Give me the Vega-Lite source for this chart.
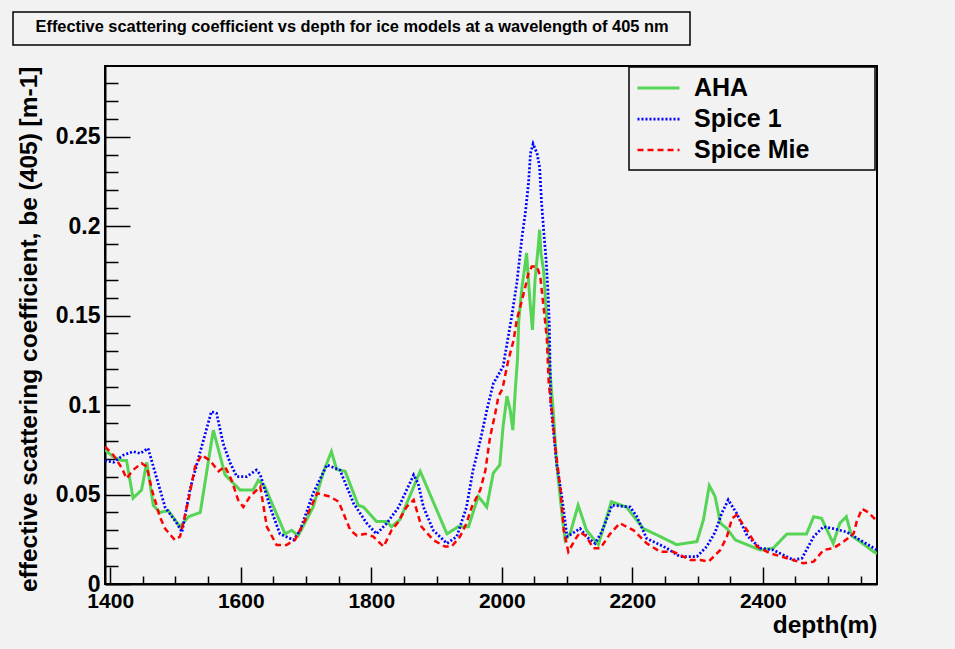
{
  "$schema": "https://vega.github.io/schema/vega-lite/v6.json",
  "autosize": {"type": "none"},
  "padding": {"left": 105, "top": 66, "right": 78, "bottom": 65},
  "width": 772,
  "height": 518,
  "background": "#f2f2f2",
  "data": {"values": [
    {"d":1392,"v":0.075,"m":"AHA"},{"d":1405,"v":0.071,"m":"AHA"},{"d":1418,"v":0.069,"m":"AHA"},{"d":1425,"v":0.069,"m":"AHA"},{"d":1435,"v":0.048,"m":"AHA"},{"d":1448,"v":0.0525,"m":"AHA"},{"d":1456,"v":0.068,"m":"AHA"},{"d":1466,"v":0.044,"m":"AHA"},{"d":1476,"v":0.040,"m":"AHA"},{"d":1489,"v":0.041,"m":"AHA"},{"d":1507,"v":0.032,"m":"AHA"},{"d":1520,"v":0.0376,"m":"AHA"},{"d":1538,"v":0.040,"m":"AHA"},{"d":1558,"v":0.086,"m":"AHA"},{"d":1576,"v":0.061,"m":"AHA"},{"d":1599,"v":0.0525,"m":"AHA"},{"d":1619,"v":0.0525,"m":"AHA"},{"d":1627,"v":0.058,"m":"AHA"},{"d":1637,"v":0.0544,"m":"AHA"},{"d":1668,"v":0.028,"m":"AHA"},{"d":1678,"v":0.030,"m":"AHA"},{"d":1688,"v":0.027,"m":"AHA"},{"d":1711,"v":0.043,"m":"AHA"},{"d":1727,"v":0.063,"m":"AHA"},{"d":1739,"v":0.074,"m":"AHA"},{"d":1747,"v":0.064,"m":"AHA"},{"d":1760,"v":0.063,"m":"AHA"},{"d":1780,"v":0.044,"m":"AHA"},{"d":1788,"v":0.043,"m":"AHA"},{"d":1808,"v":0.035,"m":"AHA"},{"d":1824,"v":0.035,"m":"AHA"},{"d":1831,"v":0.032,"m":"AHA"},{"d":1844,"v":0.036,"m":"AHA"},{"d":1875,"v":0.063,"m":"AHA"},{"d":1916,"v":0.028,"m":"AHA"},{"d":1933,"v":0.032,"m":"AHA"},{"d":1949,"v":0.032,"m":"AHA"},{"d":1964,"v":0.049,"m":"AHA"},{"d":1977,"v":0.043,"m":"AHA"},{"d":1987,"v":0.062,"m":"AHA"},{"d":1997,"v":0.0665,"m":"AHA"},{"d":2002,"v":0.088,"m":"AHA"},{"d":2008,"v":0.105,"m":"AHA"},{"d":2013,"v":0.097,"m":"AHA"},{"d":2017,"v":0.086,"m":"AHA"},{"d":2021,"v":0.110,"m":"AHA"},{"d":2024,"v":0.125,"m":"AHA"},{"d":2026,"v":0.147,"m":"AHA"},{"d":2031,"v":0.166,"m":"AHA"},{"d":2036,"v":0.179,"m":"AHA"},{"d":2038,"v":0.185,"m":"AHA"},{"d":2043,"v":0.159,"m":"AHA"},{"d":2047,"v":0.142,"m":"AHA"},{"d":2051,"v":0.170,"m":"AHA"},{"d":2056,"v":0.189,"m":"AHA"},{"d":2058,"v":0.198,"m":"AHA"},{"d":2060,"v":0.185,"m":"AHA"},{"d":2064,"v":0.1755,"m":"AHA"},{"d":2069,"v":0.148,"m":"AHA"},{"d":2074,"v":0.118,"m":"AHA"},{"d":2079,"v":0.096,"m":"AHA"},{"d":2084,"v":0.0675,"m":"AHA"},{"d":2092,"v":0.040,"m":"AHA"},{"d":2097,"v":0.0246,"m":"AHA"},{"d":2105,"v":0.0285,"m":"AHA"},{"d":2117,"v":0.044,"m":"AHA"},{"d":2130,"v":0.030,"m":"AHA"},{"d":2148,"v":0.022,"m":"AHA"},{"d":2168,"v":0.046,"m":"AHA"},{"d":2191,"v":0.043,"m":"AHA"},{"d":2217,"v":0.031,"m":"AHA"},{"d":2243,"v":0.0265,"m":"AHA"},{"d":2268,"v":0.022,"m":"AHA"},{"d":2299,"v":0.0237,"m":"AHA"},{"d":2309,"v":0.0358,"m":"AHA"},{"d":2318,"v":0.055,"m":"AHA"},{"d":2327,"v":0.0488,"m":"AHA"},{"d":2335,"v":0.034,"m":"AHA"},{"d":2345,"v":0.031,"m":"AHA"},{"d":2358,"v":0.0246,"m":"AHA"},{"d":2396,"v":0.019,"m":"AHA"},{"d":2416,"v":0.020,"m":"AHA"},{"d":2437,"v":0.028,"m":"AHA"},{"d":2467,"v":0.028,"m":"AHA"},{"d":2478,"v":0.0376,"m":"AHA"},{"d":2490,"v":0.0367,"m":"AHA"},{"d":2508,"v":0.0227,"m":"AHA"},{"d":2518,"v":0.034,"m":"AHA"},{"d":2528,"v":0.0376,"m":"AHA"},{"d":2536,"v":0.027,"m":"AHA"},{"d":2549,"v":0.0237,"m":"AHA"},{"d":2570,"v":0.018,"m":"AHA"},{"d":2575,"v":0.017,"m":"AHA"},

    {"d":1392,"v":0.069,"m":"Spice 1"},{"d":1405,"v":0.068,"m":"Spice 1"},{"d":1420,"v":0.072,"m":"Spice 1"},{"d":1435,"v":0.074,"m":"Spice 1"},{"d":1446,"v":0.073,"m":"Spice 1"},{"d":1458,"v":0.0758,"m":"Spice 1"},{"d":1469,"v":0.062,"m":"Spice 1"},{"d":1484,"v":0.043,"m":"Spice 1"},{"d":1502,"v":0.034,"m":"Spice 1"},{"d":1510,"v":0.029,"m":"Spice 1"},{"d":1522,"v":0.0525,"m":"Spice 1"},{"d":1538,"v":0.074,"m":"Spice 1"},{"d":1555,"v":0.0963,"m":"Spice 1"},{"d":1563,"v":0.0954,"m":"Spice 1"},{"d":1573,"v":0.0786,"m":"Spice 1"},{"d":1584,"v":0.0675,"m":"Spice 1"},{"d":1594,"v":0.060,"m":"Spice 1"},{"d":1609,"v":0.060,"m":"Spice 1"},{"d":1624,"v":0.0637,"m":"Spice 1"},{"d":1630,"v":0.061,"m":"Spice 1"},{"d":1645,"v":0.043,"m":"Spice 1"},{"d":1660,"v":0.028,"m":"Spice 1"},{"d":1681,"v":0.0246,"m":"Spice 1"},{"d":1691,"v":0.030,"m":"Spice 1"},{"d":1711,"v":0.0507,"m":"Spice 1"},{"d":1732,"v":0.0665,"m":"Spice 1"},{"d":1752,"v":0.0637,"m":"Spice 1"},{"d":1773,"v":0.045,"m":"Spice 1"},{"d":1793,"v":0.034,"m":"Spice 1"},{"d":1808,"v":0.028,"m":"Spice 1"},{"d":1824,"v":0.034,"m":"Spice 1"},{"d":1842,"v":0.043,"m":"Spice 1"},{"d":1865,"v":0.061,"m":"Spice 1"},{"d":1872,"v":0.056,"m":"Spice 1"},{"d":1880,"v":0.043,"m":"Spice 1"},{"d":1895,"v":0.030,"m":"Spice 1"},{"d":1916,"v":0.0227,"m":"Spice 1"},{"d":1931,"v":0.0265,"m":"Spice 1"},{"d":1946,"v":0.043,"m":"Spice 1"},{"d":1956,"v":0.0637,"m":"Spice 1"},{"d":1967,"v":0.080,"m":"Spice 1"},{"d":1977,"v":0.097,"m":"Spice 1"},{"d":1987,"v":0.112,"m":"Spice 1"},{"d":2002,"v":0.1215,"m":"Spice 1"},{"d":2015,"v":0.149,"m":"Spice 1"},{"d":2023,"v":0.168,"m":"Spice 1"},{"d":2031,"v":0.194,"m":"Spice 1"},{"d":2036,"v":0.207,"m":"Spice 1"},{"d":2041,"v":0.224,"m":"Spice 1"},{"d":2044,"v":0.2407,"m":"Spice 1"},{"d":2048,"v":0.246,"m":"Spice 1"},{"d":2054,"v":0.2407,"m":"Spice 1"},{"d":2058,"v":0.233,"m":"Spice 1"},{"d":2061,"v":0.213,"m":"Spice 1"},{"d":2065,"v":0.194,"m":"Spice 1"},{"d":2068,"v":0.181,"m":"Spice 1"},{"d":2071,"v":0.1625,"m":"Spice 1"},{"d":2073,"v":0.144,"m":"Spice 1"},{"d":2075,"v":0.101,"m":"Spice 1"},{"d":2084,"v":0.0675,"m":"Spice 1"},{"d":2092,"v":0.0488,"m":"Spice 1"},{"d":2100,"v":0.0265,"m":"Spice 1"},{"d":2107,"v":0.028,"m":"Spice 1"},{"d":2120,"v":0.031,"m":"Spice 1"},{"d":2133,"v":0.0255,"m":"Spice 1"},{"d":2143,"v":0.0227,"m":"Spice 1"},{"d":2153,"v":0.029,"m":"Spice 1"},{"d":2169,"v":0.044,"m":"Spice 1"},{"d":2197,"v":0.043,"m":"Spice 1"},{"d":2207,"v":0.0376,"m":"Spice 1"},{"d":2222,"v":0.0255,"m":"Spice 1"},{"d":2243,"v":0.0218,"m":"Spice 1"},{"d":2253,"v":0.020,"m":"Spice 1"},{"d":2273,"v":0.0153,"m":"Spice 1"},{"d":2299,"v":0.0153,"m":"Spice 1"},{"d":2314,"v":0.0209,"m":"Spice 1"},{"d":2327,"v":0.029,"m":"Spice 1"},{"d":2337,"v":0.0395,"m":"Spice 1"},{"d":2347,"v":0.047,"m":"Spice 1"},{"d":2360,"v":0.0395,"m":"Spice 1"},{"d":2376,"v":0.027,"m":"Spice 1"},{"d":2396,"v":0.020,"m":"Spice 1"},{"d":2416,"v":0.019,"m":"Spice 1"},{"d":2447,"v":0.0134,"m":"Spice 1"},{"d":2460,"v":0.0144,"m":"Spice 1"},{"d":2478,"v":0.0265,"m":"Spice 1"},{"d":2493,"v":0.032,"m":"Spice 1"},{"d":2508,"v":0.031,"m":"Spice 1"},{"d":2529,"v":0.029,"m":"Spice 1"},{"d":2549,"v":0.0246,"m":"Spice 1"},{"d":2575,"v":0.019,"m":"Spice 1"},

    {"d":1392,"v":0.0767,"m":"Spice Mie"},{"d":1405,"v":0.072,"m":"Spice Mie"},{"d":1418,"v":0.0647,"m":"Spice Mie"},{"d":1425,"v":0.059,"m":"Spice Mie"},{"d":1435,"v":0.0637,"m":"Spice Mie"},{"d":1448,"v":0.0675,"m":"Spice Mie"},{"d":1456,"v":0.0656,"m":"Spice Mie"},{"d":1464,"v":0.0525,"m":"Spice Mie"},{"d":1476,"v":0.0376,"m":"Spice Mie"},{"d":1484,"v":0.031,"m":"Spice Mie"},{"d":1499,"v":0.0246,"m":"Spice Mie"},{"d":1507,"v":0.0265,"m":"Spice Mie"},{"d":1520,"v":0.047,"m":"Spice Mie"},{"d":1530,"v":0.0656,"m":"Spice Mie"},{"d":1540,"v":0.072,"m":"Spice Mie"},{"d":1553,"v":0.069,"m":"Spice Mie"},{"d":1566,"v":0.063,"m":"Spice Mie"},{"d":1576,"v":0.0656,"m":"Spice Mie"},{"d":1586,"v":0.058,"m":"Spice Mie"},{"d":1596,"v":0.047,"m":"Spice Mie"},{"d":1604,"v":0.043,"m":"Spice Mie"},{"d":1614,"v":0.0488,"m":"Spice Mie"},{"d":1630,"v":0.0544,"m":"Spice Mie"},{"d":1640,"v":0.032,"m":"Spice Mie"},{"d":1655,"v":0.0218,"m":"Spice Mie"},{"d":1670,"v":0.0218,"m":"Spice Mie"},{"d":1683,"v":0.0246,"m":"Spice Mie"},{"d":1699,"v":0.036,"m":"Spice Mie"},{"d":1717,"v":0.0507,"m":"Spice Mie"},{"d":1737,"v":0.0488,"m":"Spice Mie"},{"d":1750,"v":0.046,"m":"Spice Mie"},{"d":1768,"v":0.030,"m":"Spice Mie"},{"d":1778,"v":0.027,"m":"Spice Mie"},{"d":1791,"v":0.028,"m":"Spice Mie"},{"d":1803,"v":0.0265,"m":"Spice Mie"},{"d":1819,"v":0.0209,"m":"Spice Mie"},{"d":1831,"v":0.030,"m":"Spice Mie"},{"d":1841,"v":0.0345,"m":"Spice Mie"},{"d":1854,"v":0.043,"m":"Spice Mie"},{"d":1865,"v":0.047,"m":"Spice Mie"},{"d":1877,"v":0.032,"m":"Spice Mie"},{"d":1895,"v":0.0246,"m":"Spice Mie"},{"d":1913,"v":0.0209,"m":"Spice Mie"},{"d":1923,"v":0.0209,"m":"Spice Mie"},{"d":1936,"v":0.0265,"m":"Spice Mie"},{"d":1946,"v":0.034,"m":"Spice Mie"},{"d":1954,"v":0.043,"m":"Spice Mie"},{"d":1967,"v":0.0525,"m":"Spice Mie"},{"d":1975,"v":0.0637,"m":"Spice Mie"},{"d":1982,"v":0.082,"m":"Spice Mie"},{"d":1990,"v":0.0954,"m":"Spice Mie"},{"d":1995,"v":0.105,"m":"Spice Mie"},{"d":2001,"v":0.109,"m":"Spice Mie"},{"d":2010,"v":0.125,"m":"Spice Mie"},{"d":2018,"v":0.136,"m":"Spice Mie"},{"d":2023,"v":0.1476,"m":"Spice Mie"},{"d":2031,"v":0.1587,"m":"Spice Mie"},{"d":2036,"v":0.166,"m":"Spice Mie"},{"d":2041,"v":0.1737,"m":"Spice Mie"},{"d":2046,"v":0.1774,"m":"Spice Mie"},{"d":2054,"v":0.1774,"m":"Spice Mie"},{"d":2059,"v":0.1718,"m":"Spice Mie"},{"d":2064,"v":0.155,"m":"Spice Mie"},{"d":2069,"v":0.138,"m":"Spice Mie"},{"d":2072,"v":0.112,"m":"Spice Mie"},{"d":2077,"v":0.096,"m":"Spice Mie"},{"d":2082,"v":0.0767,"m":"Spice Mie"},{"d":2090,"v":0.0525,"m":"Spice Mie"},{"d":2095,"v":0.030,"m":"Spice Mie"},{"d":2102,"v":0.018,"m":"Spice Mie"},{"d":2112,"v":0.0246,"m":"Spice Mie"},{"d":2120,"v":0.029,"m":"Spice Mie"},{"d":2130,"v":0.0265,"m":"Spice Mie"},{"d":2140,"v":0.020,"m":"Spice Mie"},{"d":2151,"v":0.020,"m":"Spice Mie"},{"d":2166,"v":0.028,"m":"Spice Mie"},{"d":2181,"v":0.034,"m":"Spice Mie"},{"d":2202,"v":0.030,"m":"Spice Mie"},{"d":2222,"v":0.0227,"m":"Spice Mie"},{"d":2243,"v":0.018,"m":"Spice Mie"},{"d":2263,"v":0.018,"m":"Spice Mie"},{"d":2289,"v":0.0134,"m":"Spice Mie"},{"d":2304,"v":0.0134,"m":"Spice Mie"},{"d":2317,"v":0.0125,"m":"Spice Mie"},{"d":2335,"v":0.019,"m":"Spice Mie"},{"d":2345,"v":0.0265,"m":"Spice Mie"},{"d":2353,"v":0.0367,"m":"Spice Mie"},{"d":2360,"v":0.0386,"m":"Spice Mie"},{"d":2376,"v":0.030,"m":"Spice Mie"},{"d":2391,"v":0.0209,"m":"Spice Mie"},{"d":2411,"v":0.0172,"m":"Spice Mie"},{"d":2437,"v":0.0144,"m":"Spice Mie"},{"d":2462,"v":0.0116,"m":"Spice Mie"},{"d":2478,"v":0.0125,"m":"Spice Mie"},{"d":2493,"v":0.019,"m":"Spice Mie"},{"d":2508,"v":0.020,"m":"Spice Mie"},{"d":2524,"v":0.0237,"m":"Spice Mie"},{"d":2539,"v":0.028,"m":"Spice Mie"},{"d":2544,"v":0.035,"m":"Spice Mie"},{"d":2552,"v":0.042,"m":"Spice Mie"},{"d":2562,"v":0.040,"m":"Spice Mie"},{"d":2575,"v":0.035,"m":"Spice Mie"}
  ]},
  "mark": {"type": "line", "clip": true, "strokeCap": "butt", "strokeJoin": "miter"},
  "encoding": {
    "x": {
      "field": "d", "type": "quantitative",
      "scale": {"domain": [1392, 2575], "nice": false, "zero": false},
      "axis": {
        "title": "depth(m)",
        "titleX": 772, "titleY": 48, "titleAlign": "right", "titleBaseline": "alphabetic", "titleAngle": 0,
        "values": [1400,1450,1500,1550,1600,1650,1700,1750,1800,1850,1900,1950,2000,2050,2100,2150,2200,2250,2300,2350,2400,2450,2500,2550],
        "tickSize": {"condition": {"test": "datum.value % 200 === 0", "value": -17}, "value": -8},
        "labelExpr": "datum.value % 200 === 0 ? datum.label : ''",
        "format": "d",
        "labelPadding": 23,
        "labelFontSize": 21,
        "labelOverlap": false,
        "labelFlush": false
      }
    },
    "y": {
      "field": "v", "type": "quantitative",
      "scale": {"domain": [0, 0.2895], "nice": false},
      "axis": {
        "title": "effective scattering coefficient, be (405) [m-1]",
        "titleX": -69, "titleY": 0, "titleAlign": "right", "titleBaseline": "alphabetic", "titleAngle": -90,
        "values": [0,0.01,0.02,0.03,0.04,0.05,0.06,0.07,0.08,0.09,0.1,0.11,0.12,0.13,0.14,0.15,0.16,0.17,0.18,0.19,0.2,0.21,0.22,0.23,0.24,0.25,0.26,0.27,0.28],
        "tickSize": {"condition": {"test": "round(datum.value*100) % 5 === 0", "value": -25}, "value": -13},
        "labelExpr": "round(datum.value*100) % 5 === 0 ? format(datum.value, '~g') : ''",
        "labelPadding": 30,
        "labelFontSize": 23,
        "labelOverlap": false,
        "labelFlush": false
      }
    },
    "color": {
      "field": "m", "type": "nominal",
      "scale": {"domain": ["AHA", "Spice 1", "Spice Mie"], "range": ["#55d455", "#0000ff", "#ff0000"]},
      "legend": {
        "title": null, "orient": "none", "legendX": 524, "legendY": 1,
        "fillColor": "#f2f2f2", "strokeColor": "black", "padding": 7,
        "symbolType": "M-1,0H2.36M16.92,0", "symbolSize": 625,
        "labelFont": "Liberation Sans", "labelFontSize": 25, "labelFontWeight": "bold", "labelColor": "black",
        "labelOffset": 30, "rowPadding": 4, "labelLimit": 0
      }
    },
    "strokeDash": {
      "field": "m", "type": "nominal",
      "scale": {"domain": ["AHA", "Spice 1", "Spice Mie"], "range": [[1, 0], [2, 2], [6, 4]]}
    },
    "strokeWidth": {
      "field": "m", "type": "nominal",
      "scale": {"domain": ["AHA", "Spice 1", "Spice Mie"], "range": [3, 2.5, 3]}
    },
    "opacity": {
      "datum": "frame", "type": "nominal",
      "scale": {"range": [1, 1]},
      "legend": {
        "title": "Effective scattering coefficient  vs depth for ice models at a wavelength of 405 nm",
        "titleFont": "Liberation Sans", "titleFontSize": 16.4, "titleFontWeight": "bold", "titleColor": "black",
        "titleAnchor": "middle", "titlePadding": 1, "titleLimit": 0,
        "orient": "none", "legendX": -92, "legendY": -54,
        "fillColor": null, "strokeColor": "black", "padding": 7,
        "symbolType": "M0,0M662,0", "symbolSize": 4, "symbolOpacity": 0, "symbolStrokeWidth": 0,
        "labelFontSize": 1, "labelOffset": 0, "labelLimit": 0,
        "labelExpr": "''"
      }
    },
    "strokeOpacity": {
      "datum": "shadow", "type": "nominal",
      "scale": {"range": [1, 1]},
      "legend": {
        "title": null,
        "orient": "none", "legendX": -105, "legendY": -66,
        "fillColor": null, "strokeColor": null, "padding": 0,
        "symbolType": "M691,16V49M691,47H17M876.5,71V174M876.5,171.5H633", "symbolSize": 4,
        "symbolOpacity": 1, "symbolStrokeWidth": 4.5, "symbolStrokeColor": "black", "symbolFillColor": "transparent",
        "symbolDash": [1, 0],
        "labelFontSize": 1, "labelOffset": 0, "labelLimit": 0,
        "labelExpr": "''"
      }
    }
  },
  "config": {
    "view": {"stroke": "black", "strokeWidth": 2, "fill": null},
    "axis": {
      "grid": false,
      "domainColor": "black", "domainWidth": 2,
      "tickColor": "black", "tickWidth": 1.5,
      "labelFont": "Liberation Sans", "labelFontWeight": "bold", "labelColor": "black",
      "titleFont": "Liberation Sans", "titleFontWeight": "bold", "titleFontSize": 24.5, "titleColor": "black"
    },
    "legend": {"strokeWidth": 1.5}
  }
}
